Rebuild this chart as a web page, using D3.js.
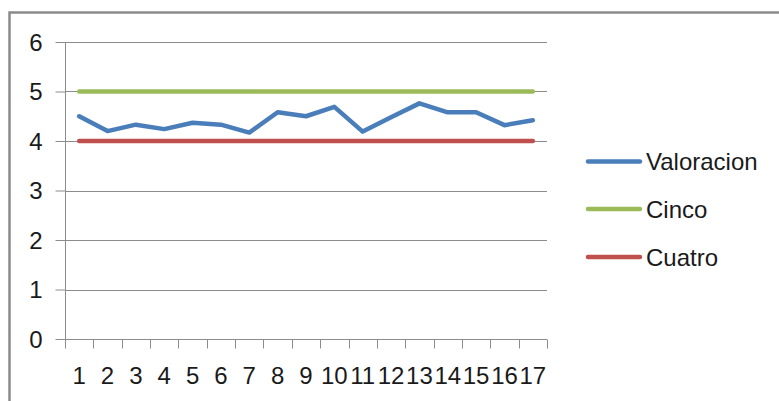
<!DOCTYPE html>
<html>
<head>
<meta charset="utf-8">
<script src="https://cdn.jsdelivr.net/npm/d3@7"></script>
<style>
  html, body { margin: 0; padding: 0; background: #fff; }
  svg { display: block; }
  text { font-family: "Liberation Sans", Arial, sans-serif; fill: #1a1a1a; }
</style>
</head>
<body>
<svg id="chart" width="779" height="401"></svg>
<script>
const categories = ["1","2","3","4","5","6","7","8","9","10","11","12","13","14","15","16","17"];
const valoracion = [4.5, 4.2, 4.33, 4.24, 4.37, 4.33, 4.17, 4.58, 4.5, 4.69, 4.19, 4.48, 4.76, 4.58, 4.58, 4.32, 4.42];
const cinco = [5,5,5,5,5,5,5,5,5,5,5,5,5,5,5,5,5];
const cuatro = [4,4,4,4,4,4,4,4,4,4,4,4,4,4,4,4,4];
const yTicks = [0, 1, 2, 3, 4, 5, 6];
const seriesNames = ["Valoracion", "Cinco", "Cuatro"];
const seriesColors = ["#4A7EBB", "#9BBB59", "#C0504D"];

const series = [valoracion, cinco, cuatro];
const svg = d3.select("#chart");

// outer chart border
svg.append("rect")
  .attr("x", 9.5).attr("y", 12.5)
  .attr("width", 800).attr("height", 420)
  .attr("fill", "none").attr("stroke", "#8a8a8a").attr("stroke-width", 2.5);

const x = d3.scaleBand().domain(categories).range([65, 547]).padding(0);
const y = d3.scaleLinear().domain([0, 6]).range([339, 42]);

// gridlines
svg.append("g").selectAll("line").data(yTicks.filter(d => d > 0)).join("line")
  .attr("x1", 65).attr("x2", 547)
  .attr("y1", d => Math.round(y(d)) + 0.5).attr("y2", d => Math.round(y(d)) + 0.5)
  .attr("stroke", "#8c8c8c").attr("stroke-width", 1);

// y axis
const yAxis = d3.axisLeft(y).tickValues(yTicks).tickFormat(d3.format("d")).tickSize(10).tickPadding(13);
const gy = svg.append("g").attr("transform", "translate(65.5,0)").call(yAxis);
gy.select(".domain").attr("stroke", "#8c8c8c").attr("d", `M0,${y(6)}V${y(0)}`);
gy.selectAll(".tick line").attr("stroke", "#8c8c8c");
gy.selectAll(".tick text").style("font-size", "24px").attr("fill", "#1a1a1a").attr("dy", "0.35em");

// x axis
const xAxis = d3.axisBottom(x).tickSize(0).tickPadding(0);
const gx = svg.append("g").attr("transform", `translate(0,${Math.round(y(0)) + 0.5})`).call(xAxis);
gx.select(".domain").attr("stroke", "#8c8c8c").attr("d", `M65,0H547`);
gx.selectAll(".tick text").style("font-size", "24px").attr("fill", "#1a1a1a").attr("dy", null).attr("y", 44);
// category boundary tick marks
const bounds = categories.map(c => x(c)).concat([x(categories[categories.length - 1]) + x.bandwidth()]);
gx.append("g").selectAll("line").data(bounds).join("line")
  .attr("x1", d => Math.round(d) + 0.5).attr("x2", d => Math.round(d) + 0.5)
  .attr("y1", 0).attr("y2", 9)
  .attr("stroke", "#8c8c8c");

// series lines
const line = d3.line()
  .x((d, i) => x(categories[i]) + x.bandwidth() / 2)
  .y(d => y(d));

// draw order: Cinco, Cuatro, then Valoracion on top
[1, 2, 0].forEach(k => {
  svg.append("path")
    .datum(series[k])
    .attr("d", line)
    .attr("fill", "none")
    .attr("stroke", seriesColors[k])
    .attr("stroke-width", 4.5)
    .attr("stroke-linejoin", "round")
    .attr("stroke-linecap", "round");
});

// legend
const legendY = [161.5, 209, 257];
const lg = svg.append("g");
seriesNames.forEach((name, i) => {
  lg.append("line")
    .attr("x1", 588).attr("x2", 640)
    .attr("y1", legendY[i]).attr("y2", legendY[i])
    .attr("stroke", seriesColors[i]).attr("stroke-width", 4.5)
    .attr("stroke-linecap", "round");
  lg.append("text")
    .attr("x", 646).attr("y", legendY[i] + 8.5)
    .style("font-size", "24px")
    .text(name);
});
</script>
</body>
</html>
